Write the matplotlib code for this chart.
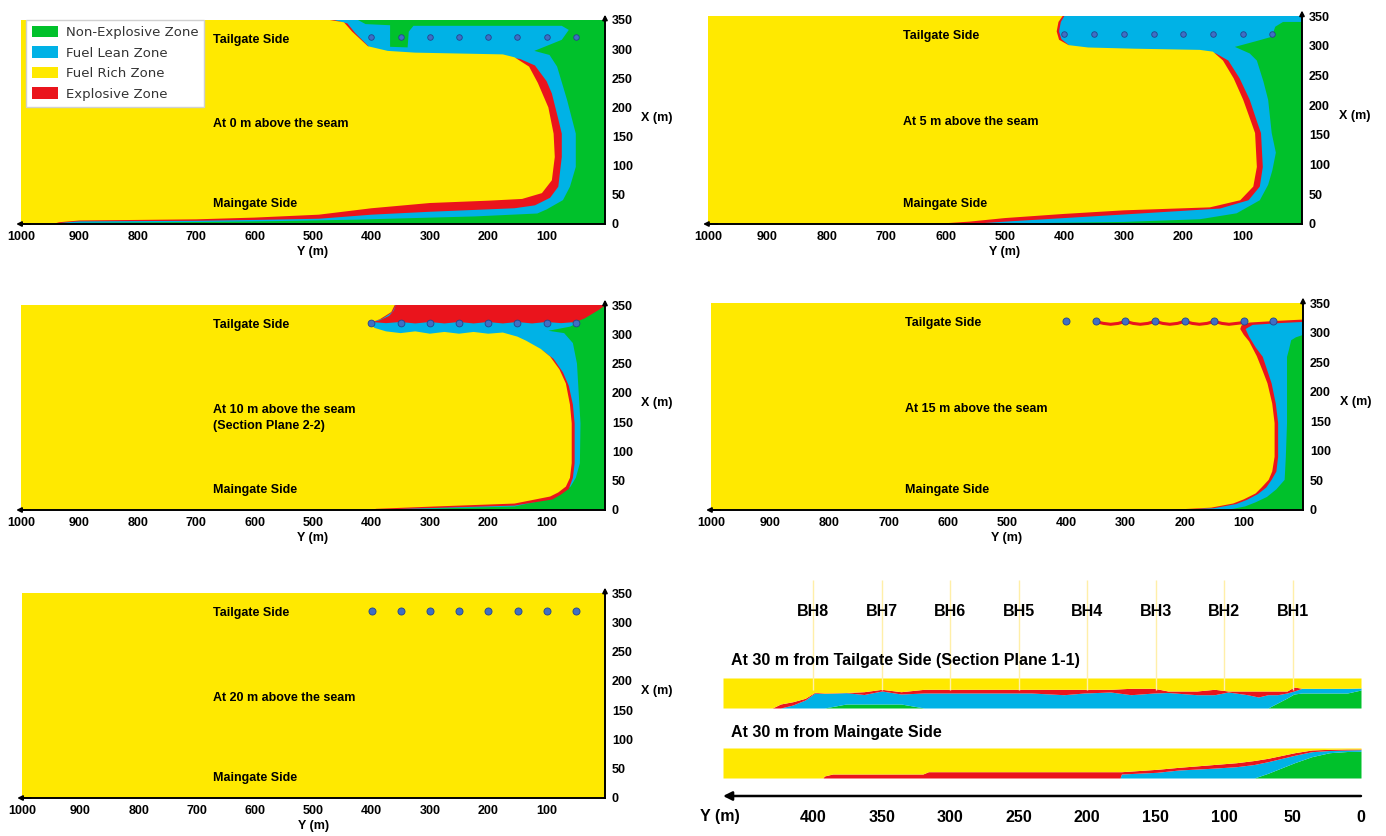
import numpy as np
import matplotlib.pyplot as plt
from matplotlib.patches import Polygon, Patch

plt.rcParams['font.family'] = ['Liberation Sans', 'DejaVu Sans']

GREEN = '#00C12B'
BLUE = '#00B2E6'
YELLOW = '#FFE900'
RED = '#EA141C'
DOT = '#3F6FC4'

# borehole positions along the face (Y, m) and their X position (m)
bh_y = [400, 350, 300, 250, 200, 150, 100, 50]
bh_x = 320
bh_names = ['BH8', 'BH7', 'BH6', 'BH5', 'BH4', 'BH3', 'BH2', 'BH1']

# zone boundaries (Y, X) read off the plan views, traced from the tailgate
# edge (X = 350) round to the maingate edge (X = 0)
# --- 0 m above the seam
p0_lean = [(423, 350), (410, 343), (368, 341), (368, 304), (338, 303), (336, 330),
           (328, 340), (74, 340), (62, 333), (74, 316), (121, 297), (95, 290),
           (82, 270), (65, 213), (50, 155), (50, 98), (60, 64), (72, 41), (100, 25),
           (116, 18), (223, 13), (426, 7.5), (562, 5), (697, 3.4), (900, 2), (960, 0)]
p0_expl = [(464, 350), (441, 344), (428, 328), (402, 302), (370, 294), (325, 291),
           (175, 288), (145, 283), (120, 272), (100, 245), (91, 224), (80, 180),
           (74, 155), (74, 115), (80, 64), (94, 45), (120, 32), (155, 27), (300, 21),
           (400, 16), (490, 9), (600, 7), (700, 5.5), (800, 5), (900, 4.5), (920, 3),
           (950, 0)]
p0_rich = [(471, 350), (447, 346), (433, 330), (406, 305), (372, 297), (325, 294),
           (175, 291), (155, 286), (130, 270), (115, 242), (97, 200), (88, 155),
           (86, 115), (91, 75), (108, 53), (142, 43), (200, 40), (300, 36), (400, 27),
           (490, 16), (600, 11), (700, 8), (800, 7), (900, 6), (935, 3), (945, 0)]

# --- 5 m above the seam
p5_lean = [(0, 350), (0, 340), (32, 340), (45, 332), (51, 315), (76, 308), (113, 298),
           (88, 287), (76, 275), (65, 240), (57, 209), (51, 153), (44, 120), (50, 90),
           (57, 66), (71, 40), (110, 18), (172, 8), (300, 3.5), (450, 1.5), (540, 0)]
p5_expl = [(400, 350), (406, 340), (409, 324), (405, 311), (390, 299), (360, 295),
           (283, 292), (172, 290), (145, 287), (124, 275), (105, 245), (88, 209),
           (75, 170), (69, 153), (66, 96), (71, 63), (90, 40), (138, 26), (300, 16),
           (400, 10), (500, 4), (560, 0)]
p5_rich = [(403, 350), (410, 340), (413, 324), (409, 310), (393, 301), (360, 297),
           (283, 295), (172, 293), (150, 290), (133, 275), (115, 245), (99, 209),
           (85, 170), (79, 153), (76, 96), (82, 63), (104, 40), (155, 28), (300, 23),
           (400, 17), (500, 10), (560, 4), (620, 0)]

# --- 10 m above the seam
p10_lean = [(356, 350), (362, 335), (380, 326), (390, 322), (60, 322), (50, 318),
            (60, 313), (97, 306), (70, 302), (55, 285), (48, 250), (46, 216), (42, 148),
            (43, 80), (50, 55), (59, 40), (75, 28), (90, 20), (155, 6), (291, 2.5),
            (380, 0.5), (388, 0)]
p10_expl = [(358, 350), (364, 338), (382, 326), (404, 321), (398, 309), (375, 302),
            (350, 299), (325, 302), (300, 298), (275, 301), (250, 298), (225, 301),
            (200, 298), (175, 300), (150, 293), (132, 286), (105, 271), (88, 258),
            (72, 235), (62, 212), (55, 180), (52, 148), (52, 80), (55, 55), (62, 36),
            (76, 26), (90, 18), (155, 7.5), (291, 3.5), (385, 0.8), (392, 0)]
p10_rich = [(360, 350), (366, 338), (385, 326), (401, 320), (395, 311), (375, 305),
            (350, 302), (325, 305), (300, 301), (275, 304), (250, 301), (225, 304),
            (200, 301), (175, 303), (150, 296), (135, 289), (110, 275), (94, 262),
            (78, 240), (67, 216), (60, 180), (57, 148), (57, 80), (60, 55), (67, 40),
            (80, 30), (94, 23), (155, 11), (291, 6), (392, 2), (400, 0)]
p10_cap = [(358, 350), (362, 340), (370, 331), (385, 324), (400, 321), (375, 319),
           (350, 321), (325, 318.5), (300, 321), (275, 318.5), (250, 321), (225, 318.5),
           (200, 321), (175, 318.5), (150, 321), (125, 318.5), (100, 321), (75, 319),
           (50, 321), (35, 327), (20, 336), (10, 342), (3, 347), (0, 348), (0, 350)]

# --- 15 m above the seam
p15_lean = [(0, 350), (0, 296), (12, 292), (20, 287), (24, 270), (27, 259), (27, 147),
            (29, 90), (31, 51), (45, 35), (61, 22), (80, 13), (98, 6), (118, 2), (136, 0)]
p15_expl = [(0, 350), (0, 318), (40, 316), (85, 313), (97, 306), (91, 293), (80, 275),
            (68, 259), (60, 235), (53, 214), (46, 180), (42, 147), (42, 90), (45, 65),
            (53, 51), (62, 38), (76, 27), (95, 17), (113, 10), (151, 3), (200, 0.8),
            (205, 0)]
p15_rich = [(0, 350), (0, 322), (40, 320), (90, 317), (104, 312), (106, 306),
            (100, 296), (91, 285), (78, 260), (68, 235), (60, 214), (52, 180), (48, 147),
            (48, 90), (52, 65), (58, 51), (70, 38), (80, 28), (100, 18), (118, 11),
            (155, 4), (211, 1), (222, 0)]
p15_wave_y = [352, 337, 325, 312, 300, 287, 275, 262, 250, 237, 225, 212, 200, 187,
              175, 162, 150, 137, 125, 112, 100]
p15_wave_x = [319, 315.5, 314, 315.5, 319, 315.5, 314, 315.5, 319, 315.5, 314, 315.5,
              319, 315.5, 314, 315.5, 319, 315.5, 314, 315.5, 317]

# vertical sections, 30 m from tailgate / maingate (height units 0-30)
tg_y = [466, 430, 424, 415, 406, 399, 392, 376, 363, 350, 336, 319, 300, 280, 260,
        241, 217, 202, 183, 168, 151, 141, 120, 107, 97, 83, 75, 68, 61, 54, 49, 43,
        30, 10, 0]
tg_rich_bot = [0, 0, 4, 6.3, 9.7, 15.7, 15, 15.5, 16.3, 18.7, 16.3, 18.7, 18.7, 18.7,
               18.7, 18.7, 18.7, 18.7, 18.7, 19.7, 19.7, 17, 17, 18.7, 17, 17, 17, 17,
               17, 17, 21, 19.7, 19.7, 19.7, 20]
tg_lean_top = [0, 0, 0, 3, 8, 15, 14.5, 15.3, 13.5, 17, 14, 15, 15, 15, 15, 15, 13.3,
               15, 16, 13.3, 15, 15.5, 13.3, 13.3, 16, 13.3, 11, 13.3, 13.3, 15, 17,
               19.7, 19.7, 19.7, 20]
tg_green_top = [0, 0, 0, 0, 0, 0, 0, 4, 4, 4, 4, 0, 0, 0, 0, 0, 0, 0, 0, 0, 0, 0, 0,
                0, 0, 0, 0, 0, 5, 10, 14, 15, 15, 15, 18]

mg_y = [466, 393, 392, 386, 320, 316, 176, 175, 149, 133, 112, 91, 78, 68, 48.5, 36,
        23, 10, 0]
mg_rich_bot = [0, 0, 2, 4, 4, 6.3, 6.3, 6.3, 8.7, 10.7, 13, 15.3, 17.5, 19.7, 25.3,
               28, 28.7, 29, 29]
mg_lean_top = [0, 0, 0, 0, 0, 0, 0, 4, 5.7, 8, 9.5, 11.3, 13.5, 16.3, 22.7, 26.3,
               27.5, 28, 28.3]
mg_green_top = [0, 0, 0, 0, 0, 0, 0, 0, 0, 0, 0, 0, 0, 4.7, 15.3, 21.3, 25.3, 26.5,
                26.7]

W, H = 1386, 836
fig = plt.figure(figsize=(W / 100, H / 100), dpi=100)


def px_axes(x0, y0, x1, y1):
    return fig.add_axes([x0 / W, 1 - y1 / H, (x1 - x0) / W, (y1 - y0) / H])


def zone_fill(ax, lean, expl, rich):
    ax.set_facecolor(GREEN)
    for curve, col in [(lean, BLUE), (expl, RED), (rich, YELLOW)]:
        pts = list(curve) + [(1000, 0), (1000, 350)]
        ax.add_patch(Polygon(pts, closed=True, facecolor=col, edgecolor='none'))


def plan_axes(ax, level, extra=None, dot_size=22):
    ax.set_xlim(1000, 0)
    ax.set_ylim(0, 350)
    for s in ['left', 'top']:
        ax.spines[s].set_visible(False)
    for s in ['right', 'bottom']:
        ax.spines[s].set_linewidth(1.4)
    ax.yaxis.tick_right()
    ax.set_xticks(range(1000, 0, -100))
    ax.set_yticks(range(0, 351, 50))
    ax.tick_params(length=0, labelsize=9, pad=5)
    for t in ax.get_xticklabels() + ax.get_yticklabels():
        t.set_fontweight('bold')
    ax.text(0.5, -0.137, 'Y (m)', transform=ax.transAxes, ha='center', va='center',
            fontsize=9, fontweight='bold')
    ax.text(1.089, 0.52, 'X (m)', transform=ax.transAxes, ha='center', va='center',
            fontsize=9, fontweight='bold')
    arrow = dict(arrowstyle='-|>', lw=1.3, color='k', mutation_scale=7)
    ax.annotate('', xy=(1, 1.04), xytext=(1, 0.98), xycoords='axes fraction',
                arrowprops=arrow, annotation_clip=False)
    ax.annotate('', xy=(-0.013, 0), xytext=(0.02, 0), xycoords='axes fraction',
                arrowprops=arrow, annotation_clip=False)
    ax.scatter(bh_y, [bh_x] * len(bh_y), s=dot_size, color=DOT, edgecolor='#23448C',
               linewidth=0.6, zorder=4)
    kw = dict(fontsize=9, fontweight='bold', ha='left', va='center', zorder=5)
    ax.text(672, 316, 'Tailgate Side', **kw)
    ax.text(672, 34, 'Maingate Side', **kw)
    ax.text(672, 171, f'At {level} m above the seam', **kw)
    if extra is not None:
        ax.text(672, 143, extra, **kw)


# panel 1: 0 m
ax1 = px_axes(21, 20, 605, 224)
zone_fill(ax1, p0_lean, p0_expl, p0_rich)
plan_axes(ax1, 0, dot_size=16)
handles = [Patch(facecolor=GREEN, label='Non-Explosive Zone'),
           Patch(facecolor=BLUE, label='Fuel Lean Zone'),
           Patch(facecolor=YELLOW, label='Fuel Rich Zone'),
           Patch(facecolor=RED, label='Explosive Zone')]
leg = ax1.legend(handles=handles, loc='upper left', bbox_to_anchor=(0.008, 1.0),
                 prop={'family': 'DejaVu Sans', 'size': 9.5}, frameon=True,
                 fancybox=False, framealpha=1, edgecolor='#D0D0D0', handlelength=2.0,
                 handleheight=0.95, borderpad=0.45, labelspacing=0.55,
                 handletextpad=0.6, borderaxespad=0.0)
leg.set_zorder(6)
for t in leg.get_texts():
    t.set_color('#333333')

# panel 2: 5 m
ax2 = px_axes(708, 16, 1302, 224)
zone_fill(ax2, p5_lean, p5_expl, p5_rich)
plan_axes(ax2, 5, dot_size=16)

# panel 3: 10 m
ax3 = px_axes(21, 305, 605, 510)
zone_fill(ax3, p10_lean, p10_expl, p10_rich)
ax3.add_patch(Polygon(p10_cap, closed=True, facecolor=RED, edgecolor='none'))
plan_axes(ax3, 10, extra='(Section Plane 2-2)', dot_size=24)

# panel 4: 15 m
ax4 = px_axes(711, 303, 1303, 510)
zone_fill(ax4, p15_lean, p15_expl, p15_rich)
ax4.plot(p15_wave_y, p15_wave_x, color=RED, lw=2.2, solid_capstyle='butt', zorder=2)
plan_axes(ax4, 15, dot_size=26)

# panel 5: 20 m
ax5 = px_axes(22, 593, 605, 798)
ax5.set_facecolor(YELLOW)
plan_axes(ax5, 20, dot_size=26)

# panel 6: vertical sections
for (y0, y1), ys, gr, le, ri in [((678, 708), tg_y, tg_green_top, tg_lean_top, tg_rich_bot),
                                 ((748, 778), mg_y, mg_green_top, mg_lean_top, mg_rich_bot)]:
    axs = px_axes(723, y0, 1361, y1)
    axs.set_xlim(466, 0)
    axs.set_ylim(0, 30)
    axs.axis('off')
    axs.fill_between(ys, 0, gr, color=GREEN, lw=0)
    axs.fill_between(ys, gr, le, color=BLUE, lw=0)
    axs.fill_between(ys, le, ri, color=RED, lw=0)
    axs.fill_between(ys, ri, 30, color=YELLOW, lw=0)

axo = px_axes(723, 560, 1361, 836)
axo.set_xlim(466, 0)
axo.set_ylim(836, 560)
axo.axis('off')
axo.vlines(bh_y, 580, 690, color='#FFEFA8', lw=1)
for y, name in zip(bh_y, bh_names):
    axo.text(y, 612, name, ha='center', va='center', fontsize=11.5, fontweight='bold')
axo.text(460, 660, 'At 30 m from Tailgate Side (Section Plane 1-1)', ha='left',
         va='center', fontsize=11.5, fontweight='bold')
axo.text(460, 733, 'At 30 m from Maingate Side', ha='left', va='center',
         fontsize=11.5, fontweight='bold')
axo.annotate('', xy=(468, 796), xytext=(-2, 796),
             arrowprops=dict(arrowstyle='-|>', lw=1.8, color='k', mutation_scale=13),
             annotation_clip=False)
for v in [400, 350, 300, 250, 200, 150, 100, 50, 0]:
    axo.text(v, 817, str(v), ha='center', va='center', fontsize=11.5, fontweight='bold')
axo.text(468, 817, 'Y (m)', ha='center', va='center', fontsize=11.5, fontweight='bold')

fig.savefig('out.png', dpi=100)
